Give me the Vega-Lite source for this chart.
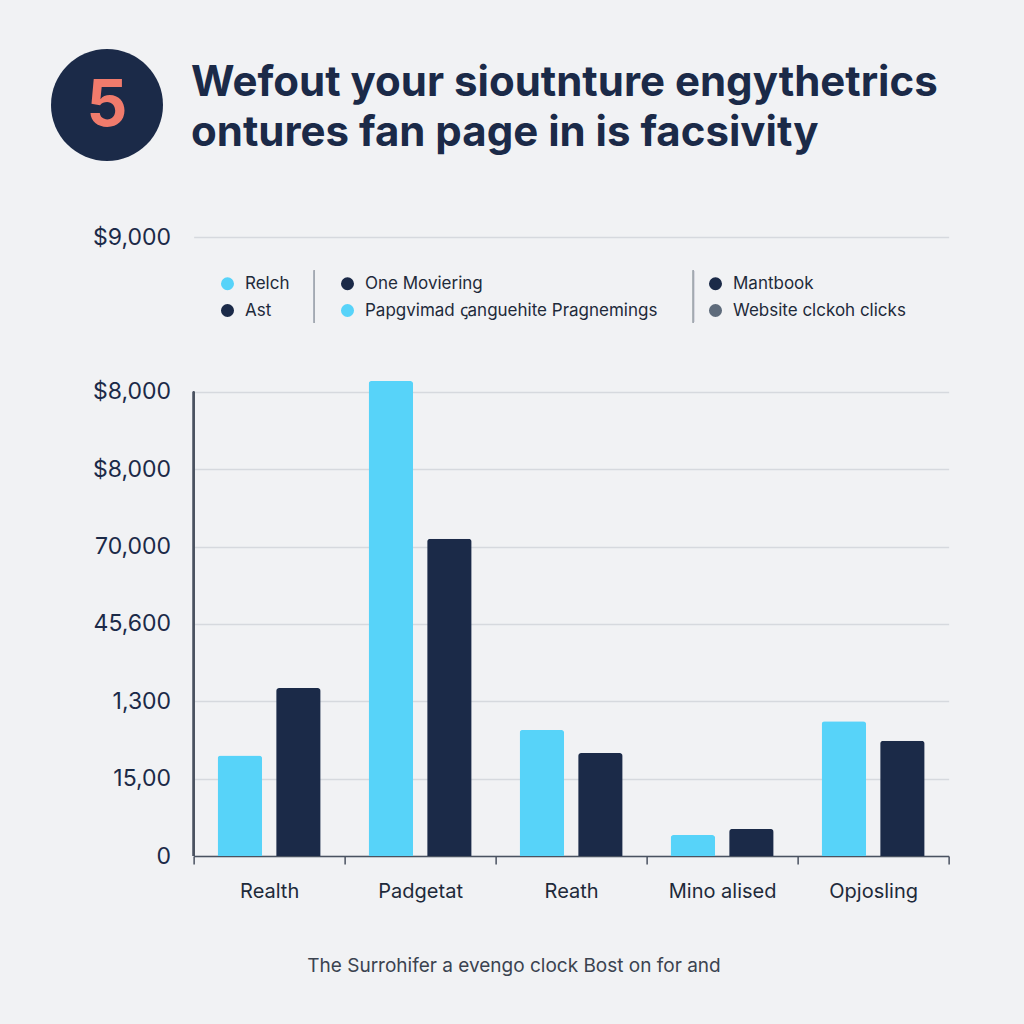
{
  "$schema": "https://vega.github.io/schema/vega-lite/v6.json",
  "background": "#F1F2F4",
  "padding": {"left": 50, "top": 49, "right": 76, "bottom": 48},
  "config": {
    "view": {"stroke": null},
    "font": "Inter"
  },
  "center": true,
  "spacing": 65,
  "vconcat": [
    {
      "hconcat": [
        {
          "width": 112,
          "height": 112,
          "data": {"values": [{"badge": "5"}]},
          "layer": [
            {
              "mark": {"type": "point", "filled": true, "shape": "circle", "size": 12544, "color": "#1B2A48", "opacity": 1},
              "encoding": {}
            },
            {
              "mark": {"type": "text", "fontSize": 64, "fontWeight": "bold", "color": "#F07B6C", "baseline": "middle", "align": "center", "font": "Inter", "dy": 2},
              "encoding": {"text": {"field": "badge"}}
            }
          ]
        },
        {
          "width": 901,
          "height": 1,
          "data": {"values": [{"t": "title"}]},
          "title": {
            "text": ["Wefout your sioutnture engythetrics", "ontures fan page in is facsivity"],
            "orient": "bottom",
            "anchor": "start",
            "frame": "group",
            "baseline": "top",
            "offset": 13,
            "fontSize": 42,
            "fontWeight": "bold",
            "lineHeight": 50,
            "color": "#1B2A48",
            "font": "Inter"
          },
          "mark": {"type": "point", "opacity": 0, "size": 0},
          "encoding": {}
        }
      ],
      "spacing": 28
    },
    {
      "width": 755,
      "height": 619,
      "title": {
        "text": "The Surrohifer a evengo clock Bost on for and",
        "orient": "bottom",
        "anchor": "middle",
        "frame": "bounds",
        "fontSize": 19,
        "fontWeight": "normal",
        "color": "#3B4350",
        "offset": 56,
        "dx": 14,
        "font": "Inter"
      },
      "data": {
        "values": [
          {"category": "Realth", "series": "Relch", "value": 1300},
          {"category": "Realth", "series": "Ast", "value": 2170},
          {"category": "Padgetat", "series": "Relch", "value": 6140},
          {"category": "Padgetat", "series": "Ast", "value": 4100},
          {"category": "Reath", "series": "Relch", "value": 1630},
          {"category": "Reath", "series": "Ast", "value": 1330},
          {"category": "Mino alised", "series": "Relch", "value": 270},
          {"category": "Mino alised", "series": "Ast", "value": 350},
          {"category": "Opjosling", "series": "Relch", "value": 1740},
          {"category": "Opjosling", "series": "Ast", "value": 1490}
        ]
      },
      "layer": [
        {
          "mark": {"type": "bar", "cornerRadiusTopLeft": 3, "cornerRadiusTopRight": 3},
          "encoding": {
            "x": {
              "field": "category",
              "type": "nominal",
              "sort": null,
              "scale": {"paddingInner": 0, "paddingOuter": 0},
              "axis": {
                "title": null,
                "labelAngle": 0,
                "labelFontSize": 20,
                "labelColor": "#1E2A3A",
                "labelPadding": 17,
                "tickBand": "extent",
                "tickSize": 8,
                "tickColor": "#4A5260",
                "domainColor": "#4A5260",
                "domainWidth": 1.5,
                "tickWidth": 1.5,
                "labelFont": "Inter"
              }
            },
            "xOffset": {
              "field": "series",
              "type": "nominal",
              "scale": {"domain": ["Relch", "Ast"], "paddingInner": 0.24, "paddingOuter": 0.41}
            },
            "y": {
              "field": "value",
              "type": "quantitative",
              "scale": {"domain": [0, 8000], "nice": false},
              "axis": {
                "title": " ",
                "titleAngle": 0,
                "titleX": -143,
                "titleY": 0,
                "titleAlign": "left",
                "titleFontSize": 4,
                "values": [0, 1000, 2000, 3000, 4000, 5000, 6000, 8000],
                "labelExpr": "datum.value == 8000 ? '$9,000' : datum.value == 6000 ? '$8,000' : datum.value == 5000 ? '$8,000' : datum.value == 4000 ? '70,000' : datum.value == 3000 ? '45,600' : datum.value == 2000 ? '1,300' : datum.value == 1000 ? '15,00' : '0'",
                "labelFontSize": 23,
                "labelColor": "#1B2A48",
                "labelPadding": 23,
                "labelFont": "Inter",
                "ticks": false,
                "domain": false,
                "gridColor": "#D6D9DE",
                "gridWidth": 1.3
              }
            },
            "color": {
              "field": "series",
              "type": "nominal",
              "scale": {
                "domain": ["Relch", "One Moviering", "Mantbook", "Ast", "Papgvimad ꞔanguehite Pragnemings", "Website clckoh clicks"],
                "range": ["#57D3F9", "#1B2A48", "#1B2A48", "#1B2A48", "#57D3F9", "#5E6B7B"]
              },
              "legend": {
                "title": null,
                "orient": "none",
                "legendX": 168,
                "legendY": 226,
                "columns": 3,
                "direction": "horizontal",
                "symbolType": "circle",
                "symbolSize": 170,
                "symbolStrokeWidth": 0,
                "labelFontSize": 17,
                "labelColor": "#1E2A3A",
                "labelFont": "Inter",
                "labelOffset": 9,
                "labelLimit": 400,
                "columnPadding": 49,
                "rowPadding": 9,
                "padding": 0
              }
            }
          }
        },
        {
          "mark": {"type": "rule", "color": "#4A5260", "strokeWidth": 1.5},
          "encoding": {
            "x": {"datum": "Realth", "type": "nominal", "bandPosition": 0},
            "y": {"datum": 0, "type": "quantitative"},
            "y2": {"datum": 6000}
          }
        },
        {
          "mark": {"type": "rule", "color": "#A3A9B1", "strokeWidth": 1.2},
          "encoding": {
            "x": {"datum": "Realth", "type": "nominal", "bandPosition": 0.8},
            "y": {"datum": 7570, "type": "quantitative"},
            "y2": {"datum": 6890}
          }
        },
        {
          "mark": {"type": "rule", "color": "#A3A9B1", "strokeWidth": 1.2},
          "encoding": {
            "x": {"datum": "Mino alised", "type": "nominal", "bandPosition": 0.31},
            "y": {"datum": 7570, "type": "quantitative"},
            "y2": {"datum": 6890}
          }
        }
      ]
    }
  ]
}
